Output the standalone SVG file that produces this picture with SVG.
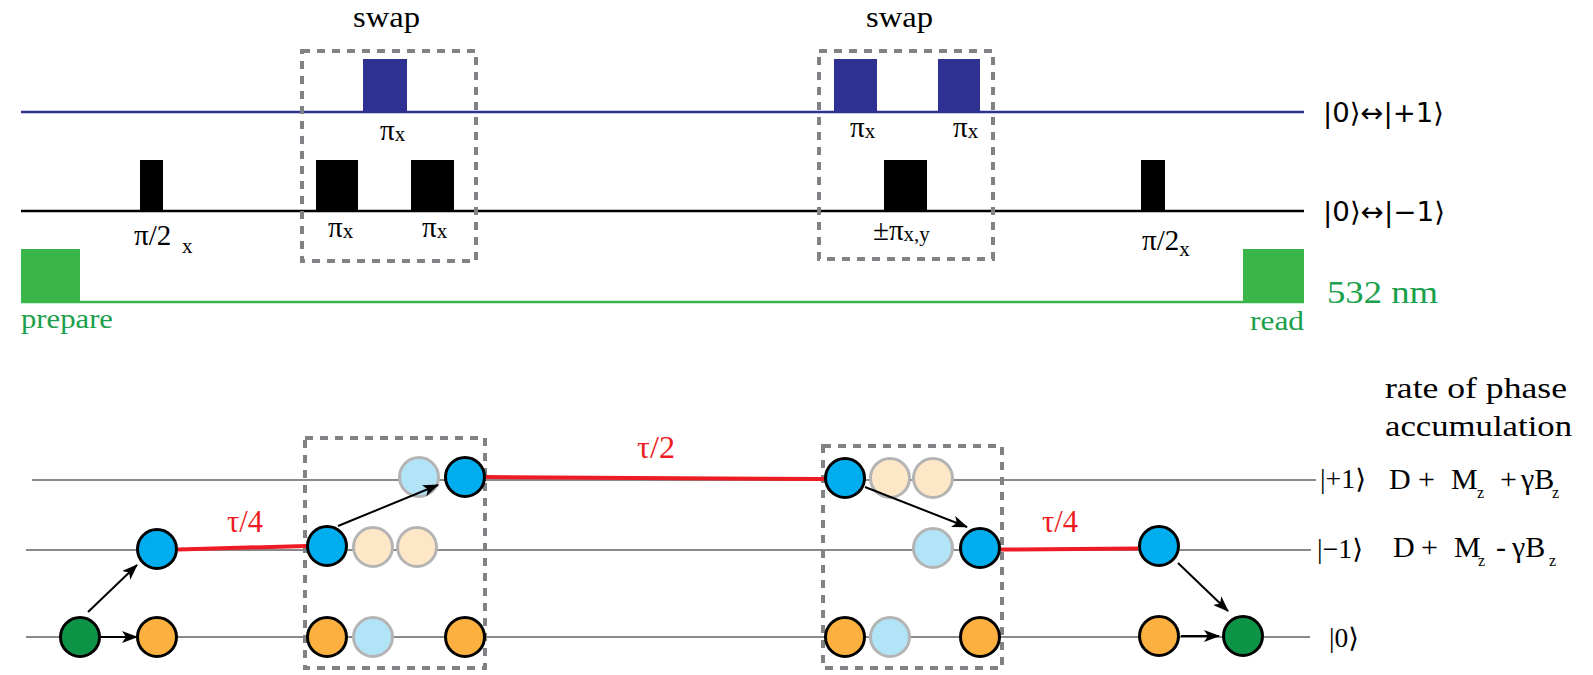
<svg xmlns="http://www.w3.org/2000/svg" width="1593" height="675" viewBox="0 0 1593 675">
  <style>
    .box { fill: none; stroke: #808285; stroke-width: 4; stroke-dasharray: 8 7; }
    .lvl { stroke: #8a8a8a; stroke-width: 2; fill: none; }
    .tau { stroke: #ED1C24; stroke-width: 4; fill: none; }
    .red { fill: #ED1C24; }
    .grn { fill: #1BA04B; }
    .arr { stroke: #000; stroke-width: 2; fill: none; marker-end: url(#head); }
    .st { stroke: #000; stroke-width: 3; }
    .ghost { stroke: #b4b4b4; stroke-width: 3; }
    .cyan { fill: #00AEEF; }
    .orng { fill: #FBB040; }
    .grc { fill: #0E9447; }
    .fcyan { fill: #B2E4F8; }
    .forng { fill: #FDE7C6; }
    .mw { fill: #2E3192; }
    .rf { fill: #000; }
    .laser { fill: #3AB54A; }
  </style>
  <defs>
    <marker id="head" viewBox="0 0 16 12" refX="15" refY="6" markerWidth="16" markerHeight="12" markerUnits="userSpaceOnUse" orient="auto">
      <path d="M0,0 L16,6 L0,12 L4,6 z" fill="#000"/>
    </marker>
  </defs>

  <!-- pulse sequence: channel lines -->
  <g id="channels">
    <line x1="21" y1="112" x2="1304" y2="112" stroke="#2E3192" stroke-width="2.5"/>
    <line x1="21" y1="211" x2="1304" y2="211" stroke="#000" stroke-width="2.5"/>
    <line x1="21" y1="302" x2="1304" y2="302" stroke="#3AB54A" stroke-width="2.5"/>
  </g>

  <g font-family="'Liberation Serif', 'DejaVu Serif', serif">
    <!-- swap windows in the pulse sequence -->
    <g id="swap-1">
      <rect class="box" x="302" y="51" width="174" height="210"/>
      <text x="353" y="27" font-size="29" textLength="67" lengthAdjust="spacingAndGlyphs">swap</text>
    </g>
    <g id="swap-2">
      <rect class="box" x="819" y="51" width="174" height="208"/>
      <text x="866" y="27" font-size="29" textLength="67" lengthAdjust="spacingAndGlyphs">swap</text>
    </g>

    <!-- laser pulses -->
    <g id="prepare">
      <rect class="laser" x="21" y="249" width="59" height="54"/>
      <text class="grn" x="21" y="328" font-size="28" textLength="92" lengthAdjust="spacingAndGlyphs">prepare</text>
    </g>
    <g id="read">
      <rect class="laser" x="1243" y="249" width="61" height="54"/>
      <text class="grn" x="1250" y="330" font-size="28" textLength="54" lengthAdjust="spacingAndGlyphs">read</text>
    </g>

    <!-- microwave pulses -->
    <g id="pulse-half-1">
      <rect class="rf" x="140" y="160" width="23" height="52"/>
      <text x="134" y="245" font-size="29">π/2</text>
      <text x="182" y="253" font-size="21">x</text>
    </g>
    <g id="pulse-swap1-a">
      <rect class="rf" x="316" y="160" width="42" height="52"/>
      <text x="328" y="237" font-size="29">π<tspan font-size="21" dy="1">x</tspan></text>
    </g>
    <g id="pulse-swap1-b">
      <rect class="mw" x="363" y="59" width="44" height="54"/>
      <text x="380" y="140" font-size="29">π<tspan font-size="21" dy="1">x</tspan></text>
    </g>
    <g id="pulse-swap1-c">
      <rect class="rf" x="411" y="160" width="43" height="52"/>
      <text x="422" y="237" font-size="29">π<tspan font-size="21" dy="1">x</tspan></text>
    </g>
    <g id="pulse-swap2-a">
      <rect class="mw" x="834" y="59" width="43" height="54"/>
      <text x="850" y="137" font-size="29">π<tspan font-size="21" dy="1">x</tspan></text>
    </g>
    <g id="pulse-swap2-b">
      <rect class="rf" x="884" y="160" width="43" height="52"/>
      <text x="873" y="240" font-size="29">±π<tspan font-size="21" dy="1">x,y</tspan></text>
    </g>
    <g id="pulse-swap2-c">
      <rect class="mw" x="938" y="59" width="42" height="54"/>
      <text x="953" y="137" font-size="29">π<tspan font-size="21" dy="1">x</tspan></text>
    </g>
    <g id="pulse-half-2">
      <rect class="rf" x="1141" y="160" width="24" height="52"/>
      <text x="1142" y="250" font-size="29">π/2<tspan font-size="21" dy="6">x</tspan></text>
    </g>

    <text class="grn" x="1327" y="303" font-size="31" textLength="111" lengthAdjust="spacingAndGlyphs">532 nm</text>
  </g>

  <!-- channel labels -->
  <g id="channel-labels" font-family="'DejaVu Sans', 'Noto Sans', sans-serif">
    <text x="1323" y="122" font-size="27" textLength="121" lengthAdjust="spacingAndGlyphs">|0⟩↔|+1⟩</text>
    <text x="1323" y="221" font-size="27" textLength="122" lengthAdjust="spacingAndGlyphs">|0⟩↔|−1⟩</text>
  </g>

  <!-- level diagram: energy levels -->
  <g id="levels">
    <line class="lvl" x1="32" y1="480" x2="1316" y2="480"/>
    <line class="lvl" x1="26" y1="550" x2="1311" y2="550"/>
    <line class="lvl" x1="26" y1="637" x2="1310" y2="637"/>
  </g>

  <!-- swap windows in the level diagram -->
  <g id="swap-box-1">
    <rect class="box" x="305" y="438" width="180" height="230"/>
  </g>
  <g id="swap-box-2">
    <rect class="box" x="823" y="446" width="179" height="222"/>
  </g>

  <!-- populations -->
  <g id="start-0"><circle class="grc st" cx="80" cy="637" r="19.5"/></g>
  <g id="a-m1"><circle class="cyan st" cx="157" cy="549" r="19.5"/></g>
  <g id="a-0"><circle class="orng st" cx="157" cy="637" r="19.5"/></g>

  <g id="s1-ghosts">
    <circle class="forng ghost" cx="373" cy="547" r="19.5"/>
    <circle class="forng ghost" cx="417" cy="547" r="19.5"/>
    <circle class="fcyan ghost" cx="419" cy="477" r="19.5"/>
    <circle class="fcyan ghost" cx="373" cy="637" r="19.5"/>
  </g>
  <g id="s1-m1"><circle class="cyan st" cx="327" cy="546" r="19.5"/></g>
  <g id="s1-p1"><circle class="cyan st" cx="465" cy="477" r="19.5"/></g>
  <g id="s1-0a"><circle class="orng st" cx="327" cy="637" r="19.5"/></g>
  <g id="s1-0b"><circle class="orng st" cx="465" cy="637" r="19.5"/></g>

  <g id="s2-ghosts">
    <circle class="forng ghost" cx="890" cy="478" r="19.5"/>
    <circle class="forng ghost" cx="933" cy="478" r="19.5"/>
    <circle class="fcyan ghost" cx="933" cy="548" r="19.5"/>
    <circle class="fcyan ghost" cx="890" cy="637" r="19.5"/>
  </g>
  <g id="s2-p1"><circle class="cyan st" cx="845" cy="478" r="19.5"/></g>
  <g id="s2-m1"><circle class="cyan st" cx="980" cy="548" r="19.5"/></g>
  <g id="s2-0a"><circle class="orng st" cx="845" cy="637" r="19.5"/></g>
  <g id="s2-0b"><circle class="orng st" cx="980" cy="637" r="19.5"/></g>

  <g id="b-m1"><circle class="cyan st" cx="1159" cy="546" r="19.5"/></g>
  <g id="b-0"><circle class="orng st" cx="1159" cy="636" r="19.5"/></g>
  <g id="end-0"><circle class="grc st" cx="1243" cy="636" r="19.5"/></g>

  <!-- free evolution segments and transfers -->
  <g id="connectors">
    <line class="tau" x1="178" y1="549.5" x2="306" y2="546"/>
    <line class="tau" x1="486" y1="477" x2="824" y2="479"/>
    <line class="tau" x1="1001" y1="549.5" x2="1138" y2="548.5"/>
    <line class="arr" x1="88" y1="612" x2="137" y2="565"/>
    <line class="arr" x1="101" y1="637" x2="137" y2="637"/>
    <line class="arr" x1="338" y1="526" x2="438" y2="485"/>
    <line class="arr" x1="865" y1="487" x2="967" y2="527"/>
    <line class="arr" x1="1178" y1="563" x2="1228" y2="611"/>
    <line class="arr" x1="1181" y1="636" x2="1219" y2="636"/>
  </g>

  <g font-family="'Liberation Serif', 'DejaVu Serif', serif">
    <g id="tau-labels">
      <text class="red" x="227" y="532" font-size="31" textLength="36" lengthAdjust="spacingAndGlyphs">τ/4</text>
      <text class="red" x="637" y="458" font-size="31" textLength="38" lengthAdjust="spacingAndGlyphs">τ/2</text>
      <text class="red" x="1042" y="532" font-size="31" textLength="36" lengthAdjust="spacingAndGlyphs">τ/4</text>
    </g>

    <!-- level labels and phase rates -->
    <g id="level-labels">
      <text x="1320" y="488" font-size="27" textLength="46" lengthAdjust="spacingAndGlyphs">|+1⟩</text>
      <text x="1317" y="558" font-size="27" textLength="46" lengthAdjust="spacingAndGlyphs">|−1⟩</text>
      <text x="1329" y="647" font-size="27" textLength="30" lengthAdjust="spacingAndGlyphs">|0⟩</text>
    </g>
    <g id="rates">
      <text x="1385" y="398" font-size="30" textLength="182" lengthAdjust="spacingAndGlyphs">rate of phase</text>
      <text x="1385" y="436" font-size="30" textLength="187" lengthAdjust="spacingAndGlyphs">accumulation</text>
      <text x="1389" y="489" font-size="30">D<tspan x="1418">+</tspan><tspan x="1451">M</tspan><tspan x="1477" dy="9" font-size="16">z</tspan><tspan x="1500" dy="-9">+</tspan><tspan x="1521">γB</tspan><tspan x="1552" dy="9" font-size="16">z</tspan></text>
      <text x="1393" y="557" font-size="30">D<tspan x="1421">+</tspan><tspan x="1454">M</tspan><tspan x="1478" dy="9" font-size="16">z</tspan><tspan x="1496" dy="-9">-</tspan><tspan x="1512">γB</tspan><tspan x="1549" dy="9" font-size="16">z</tspan></text>
    </g>
  </g>
</svg>
